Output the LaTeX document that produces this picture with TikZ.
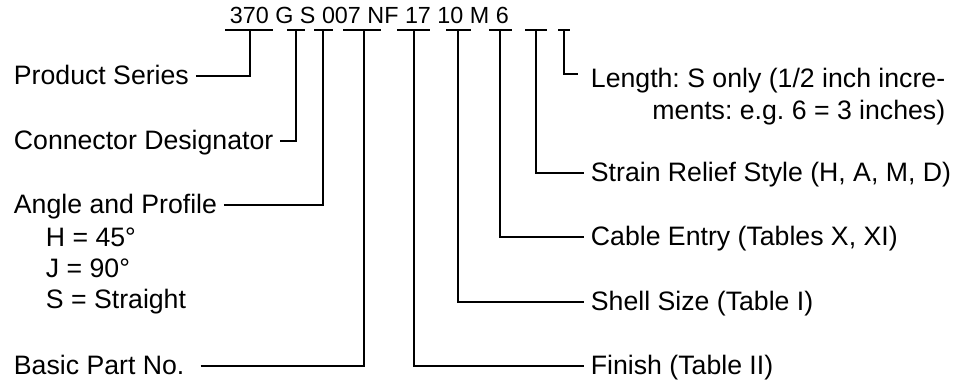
\documentclass[tikz,border=0pt]{standalone}
\usepackage{fontspec}
\setmainfont{Liberation Sans}
\usetikzlibrary{positioning}
\frenchspacing

\begin{document}
\begin{tikzpicture}[
  x=0.75pt, y=-0.75pt,
  line width=1.4pt,
  lbl/.style  = {font=\fontsize{20pt}{24pt}\selectfont, inner xsep=4.5pt,
                 inner ysep=0pt, text height=14pt, text depth=1pt, anchor=west},
  sub/.style  = {font=\fontsize{20pt}{24pt}\selectfont, inner sep=0pt,
                 anchor=base west},
  lenl/.style = {font=\fontsize{20pt}{24pt}\selectfont, inner sep=0pt,
                 align=right, anchor=north west},
  code/.style = {font=\fontsize{17.5pt}{20pt}\selectfont, inner sep=0pt,
                 anchor=base west}
]
\useasboundingbox (0,0) rectangle (962,381);

% 型号
\node[code] (pn) at (229,23.5) {370 G S 007 NF 17 10 M 6};

% 下划线 + 竖线起点
\foreach \a/\b/\c/\n in {225/273/250/1, 287/305/296/2, 314/333/323/3,
                         343/381/364/4, 397/430/414/5, 446/471/458/6,
                         489/512/500/7, 525/547/536/8, 558/570/564/9}{
  \draw (\a,30) -- (\b,30);
  \coordinate (t\n) at (\c,30);
}

% 左侧说明
\node[lbl] (ser) at (7,76)  {Product Series};
\node[lbl] (des) at (7,141) {Connector Designator};
\node[lbl] (ang) at (7,205) {Angle and Profile};
\node[sub] (angh) at (45,246) {H = 45°};
\node[sub] (angj) at (45,277) {J = 90°};
\node[sub] (angs) at (45,308) {S = Straight};
\node[lbl] (bas) at (7,366) {Basic Part No.};

% 右侧说明
\node[lenl] (len) at (590,67.5) {Length: S only (1/2 inch incre-\\ments: e.g. 6 = 3 inches)};
\coordinate (lenend) at (578,74);
\node[lbl] (str) at (584,173) {Strain Relief Style (H, A, M, D)};
\node[lbl] (cab) at (584,237) {Cable Entry (Tables X, XI)};
\node[lbl] (she) at (584,302) {Shell Size (Table I)};
\node[lbl] (fin) at (584,366) {Finish (Table II)};

% 引线
\draw (ser.east) -| (t1);
\draw (des.east) -| (t2);
\draw (ang.east) -| (t3);
\draw[shorten <=7pt] (bas.east) -| (t4);
\draw (t5) |- (fin.west);
\draw (t6) |- (she.west);
\draw (t7) |- (cab.west);
\draw (t8) |- (str.west);
\draw (t9) |- (lenend);

\end{tikzpicture}
\end{document}
